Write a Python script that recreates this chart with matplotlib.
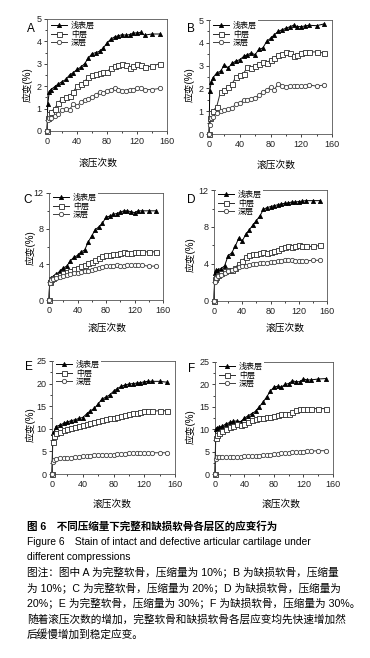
import matplotlib.pyplot as plt
from matplotlib.ticker import MultipleLocator

plt.rcParams['font.family'] = ['Liberation Sans', 'Noto Sans CJK SC']
plt.rcParams['axes.unicode_minus'] = False


# number of rollings (x axis, shared by all panels)
rolls = [0, 1, 3, 5, 10, 15, 20, 25, 30, 35, 40, 45, 50, 55, 60, 65, 70,
         75, 80, 85, 90, 95, 100, 105, 110, 115, 120, 125, 130, 140, 150]

layer_names = ["浅表层", "中层", "深层"]

# A: intact, 10% compression
a_sup = [0, 1.2, 1.75, 1.85, 1.97, 2.1, 2.2, 2.3, 2.5, 2.6, 2.75, 2.85, 3.0, 3.25, 3.45, 3.5,
         3.56, 3.7, 3.93, 4.1, 4.2, 4.25, 4.3, 4.28, 4.3, 4.37, 4.38, 4.4, 4.28, 4.33, 4.33]
a_mid = [0, 0.6, 0.75, 0.85, 1.0, 1.25, 1.45, 1.5, 1.55, 1.75, 2.0, 2.1, 2.2, 2.4, 2.5, 2.55,
         2.6, 2.65, 2.65, 2.8, 2.9, 2.95, 3.0, 2.95, 2.8, 2.9, 3.0, 2.95, 2.85, 2.9, 3.0]
a_deep = [0, 0.5, 0.6, 0.6, 0.65, 0.75, 0.95, 1.0, 0.95, 1.2, 1.1, 1.3, 1.4, 1.45, 1.5, 1.6,
          1.75, 1.7, 1.8, 1.85, 1.9, 1.85, 1.8, 1.8, 1.85, 1.85, 1.9, 1.9, 1.85, 1.85, 1.9]

# B: defective, 10% compression
b_sup = [0, 1.88, 2.3, 2.46, 2.68, 2.75, 3.04, 2.9, 3.1, 3.2, 3.26, 3.4, 3.48, 3.55, 3.48, 3.72,
         3.77, 4.06, 4.2, 4.35, 4.5, 4.57, 4.64, 4.7, 4.77, 4.71, 4.71, 4.74, 4.77, 4.75, 4.83]
b_mid = [0, 0.7, 0.9, 1.0, 1.2, 1.85, 1.95, 2.05, 2.2, 2.5, 2.6, 2.65, 2.95, 2.9, 3.0, 3.05,
         3.15, 3.1, 3.25, 3.35, 3.45, 3.5, 3.6, 3.55, 3.4, 3.45, 3.55, 3.6, 3.6, 3.6, 3.55]
b_deep = [0, 0.4, 0.7, 0.75, 0.9, 1.0, 1.05, 1.1, 1.15, 1.3, 1.35, 1.5, 1.5, 1.55, 1.6, 1.7,
          1.85, 1.95, 2.05, 1.95, 2.2, 2.1, 2.05, 2.1, 2.1, 2.1, 2.1, 2.1, 2.15, 2.1, 2.15]

# C: intact, 20% compression
c_sup = [0, 2.3, 2.5, 2.6, 2.9, 3.2, 3.6, 3.8, 4.4, 4.8, 5.0, 5.4, 5.6, 6.5, 7.2, 7.9,
         8.2, 8.6, 9.3, 9.4, 9.6, 9.7, 9.85, 10.0, 10.0, 9.9, 9.8, 10.0, 10.0, 10.0, 10.0]
c_mid = [0, 2.0, 2.4, 2.5, 2.7, 2.8, 3.0, 3.1, 3.3, 3.5, 3.6, 3.8, 3.9, 4.1, 4.3, 4.5,
         4.7, 4.9, 5.0, 5.1, 5.2, 5.2, 5.3, 5.4, 5.3, 5.3, 5.4, 5.4, 5.4, 5.4, 5.4]
c_deep = [0, 1.9, 2.2, 2.4, 2.5, 2.6, 2.7, 2.8, 2.9, 3.0, 3.0, 3.1, 3.2, 3.3, 3.4, 3.5,
          3.6, 3.7, 3.8, 3.8, 3.8, 3.9, 3.8, 3.8, 3.9, 3.9, 3.9, 3.9, 3.9, 3.8, 3.8]

# D: defective, 20% compression
d_sup = [0, 3.0, 3.3, 3.4, 3.5, 3.8, 4.9, 5.2, 5.9, 6.8, 6.5, 7.2, 7.7, 8.2, 8.7, 9.2,
         9.9, 10.1, 10.2, 10.3, 10.4, 10.5, 10.55, 10.6, 10.7, 10.7, 10.75, 10.8, 10.85, 10.85, 10.85]
d_mid = [0, 2.4, 2.6, 2.8, 3.0, 3.2, 3.3, 3.4, 3.6, 4.0, 4.3, 4.8, 5.0, 5.1, 5.1, 5.2,
         5.3, 5.2, 5.3, 5.4, 5.5, 5.7, 5.8, 5.9, 5.8, 5.9, 6.0, 5.9, 5.9, 5.9, 6.0]
d_deep = [0, 2.0, 2.5, 2.7, 2.8, 3.0, 3.2, 3.3, 3.5, 3.7, 3.8, 3.8, 3.9, 3.95, 4.0, 4.1,
          4.1, 4.15, 4.2, 4.25, 4.3, 4.35, 4.4, 4.4, 4.4, 4.3, 4.35, 4.35, 4.35, 4.4, 4.4]

# E: intact, 30% compression
e_sup = [0, 9.0, 9.3, 10.5, 10.8, 11.2, 11.5, 11.8, 12.0, 12.3, 12.5, 13.3, 14.0, 14.5, 15.5, 16.6,
         17.0, 17.5, 18.3, 18.9, 19.4, 19.7, 19.9, 20.0, 20.1, 20.2, 20.4, 20.5, 20.5, 20.5, 20.3]
e_mid = [0, 7.0, 8.5, 9.0, 9.3, 9.7, 10.0, 10.2, 10.4, 10.6, 10.8, 11.0, 11.2, 11.5, 11.8, 12.0,
         12.2, 12.4, 12.5, 12.7, 12.8, 13.0, 13.2, 13.4, 13.6, 13.8, 13.9, 13.9, 13.9, 14.0, 14.0]
e_deep = [0, 2.7, 3.0, 3.3, 3.6, 3.6, 3.6, 3.6, 3.7, 3.8, 3.9, 4.0, 4.0, 4.1, 4.1, 4.1,
          4.2, 4.3, 4.3, 4.4, 4.4, 4.5, 4.6, 4.6, 4.6, 4.7, 4.7, 4.7, 4.7, 4.7, 4.7]

# F: defective, 30% compression
f_sup = [0, 10.0, 10.2, 10.4, 10.7, 11.2, 11.5, 11.8, 11.8, 11.7, 12.5, 13.0, 13.5, 14.0, 15.0, 16.0,
         17.2, 18.5, 19.4, 19.6, 19.4, 20.0, 20.2, 20.8, 20.6, 20.6, 21.2, 21.0, 21.0, 21.2, 21.3]
f_mid = [0, 8.0, 8.8, 9.2, 9.6, 10.0, 10.5, 10.8, 11.2, 11.0, 11.1, 11.5, 12.0, 12.3, 12.4, 12.5,
         12.7, 12.8, 13.0, 13.2, 13.3, 13.3, 13.5, 13.8, 14.2, 14.4, 14.5, 14.6, 14.6, 14.6, 14.6]
f_deep = [0, 3.3, 3.7, 3.8, 3.8, 3.8, 3.85, 3.85, 3.9, 3.9, 3.95, 4.0, 4.0, 4.05, 4.1, 4.2,
          4.3, 4.35, 4.4, 4.5, 4.6, 4.6, 4.7, 4.8, 4.9, 5.0, 5.0, 5.1, 5.1, 5.2, 5.2]

caption_title = "图 6　不同压缩量下完整和缺损软骨各层区的应变行为"
caption_en = ["Figure 6　Stain of intact and defective articular cartilage under",
              "different compressions"]
caption_note = ["图注：图中 A 为完整软骨，压缩量为 10%；B 为缺损软骨，压缩量",
                "为 10%；C 为完整软骨，压缩量为 20%；D 为缺损软骨，压缩量为",
                "20%；E 为完整软骨，压缩量为 30%；F 为缺损软骨，压缩量为 30%。",
                "随着滚压次数的增加，完整软骨和缺损软骨各层应变均先快速增加然",
                "后缓慢增加到稳定应变。"]


W, H = 370, 658
fig = plt.figure(figsize=(W / 100, H / 100), dpi=100)


def px_box(l, t, r, b):
    return [l / W, 1 - b / H, (r - l) / W, (b - t) / H]


# letter, data, ymax, ystep, axes box (px), letter pos, ylabel pos, xlabel pos, legend pos
panels = [
    ("A", (a_sup, a_mid, a_deep), 5, 1, (47, 19, 167, 131), (27, 23), (28, 85), (98, 163), (49, 20)),
    ("B", (b_sup, b_mid, b_deep), 5, 1, (209, 20, 332, 134), (187, 23), (190, 85), (276, 165), (211, 20)),
    ("C", (c_sup, c_mid, c_deep), 12, 4, (49, 193, 163, 300), (23, 194), (31, 248), (107, 328), (51, 192)),
    ("D", (d_sup, d_mid, d_deep), 12, 4, (214, 190, 327, 301), (187, 194), (191, 255), (285, 328), (216, 189)),
    ("E", (e_sup, e_mid, e_deep), 25, 5, (52, 361, 175, 474), (25, 361), (31, 425), (112, 504), (54, 359)),
    ("F", (f_sup, f_mid, f_deep), 25, 5, (215, 362, 333, 474), (188, 363), (191, 427), (281, 504), (217, 361)),
]

styles = [
    dict(marker="^", color="black", mfc="black", ms=3.0),
    dict(marker="s", color="#2a2a2a", mfc="white", ms=3.6),
    dict(marker="o", color="#404040", mfc="white", ms=3.1),
]

for letter, series, ymax, ystep, box, lpos, ylpos, xlpos, legpos in panels:
    ax = fig.add_axes(px_box(*box))
    for vals, name, st in zip(series, layer_names, styles):
        ax.plot(rolls, vals, lw=0.7, mew=0.6, label=name, zorder=3, clip_on=False, **st)
    ax.set_xlim(0, 160)
    ax.set_ylim(0, ymax)
    ax.xaxis.set_major_locator(MultipleLocator(40))
    ax.xaxis.set_minor_locator(MultipleLocator(20))
    ax.yaxis.set_major_locator(MultipleLocator(ystep))
    ax.yaxis.set_minor_locator(MultipleLocator(ystep / 2))
    ax.tick_params(which="both", direction="out", width=0.6, labelsize=6.5, pad=1.5,
                   colors="#222222")
    ax.tick_params(which="major", length=2.5)
    ax.tick_params(which="minor", length=1.5)
    for sp in ax.spines.values():
        sp.set_linewidth(0.6)
        sp.set_color("#555555")
    leg = ax.legend(loc="upper left", bbox_to_anchor=(legpos[0] / W, 1 - legpos[1] / H),
                    bbox_transform=fig.transFigure, fontsize=5.8, frameon=True,
                    borderaxespad=0, borderpad=0.2, labelspacing=0.05,
                    handlelength=2.0, handletextpad=0.5, fancybox=False)
    leg.get_frame().set_edgecolor("none")
    leg.get_frame().set_facecolor("white")
    leg.get_frame().set_alpha(1)
    leg.set_zorder(2.6)

    fig.text(lpos[0] / W, 1 - lpos[1] / H, letter, fontsize=8.5, ha="left", va="top")
    fig.text(ylpos[0] / W, 1 - ylpos[1] / H, "应变(%)", fontsize=7, rotation=90,
             ha="center", va="center")
    fig.text(xlpos[0] / W, 1 - xlpos[1] / H, "滚压次数", fontsize=7, ha="center", va="center")

# caption
x0 = 27 / W
fig.text(x0, 1 - 526 / H, caption_title, fontsize=7.6, fontweight="bold", va="center")
for i, line in enumerate(caption_en):
    fig.text(x0, 1 - (542 + 15.5 * i) / H, line, fontsize=7.4, va="center")
for i, line in enumerate(caption_note):
    fig.text(x0, 1 - (573 + 15.3 * i) / H, line, fontsize=7.7, va="center")

fig.savefig("out.png", dpi=100, facecolor="white")
